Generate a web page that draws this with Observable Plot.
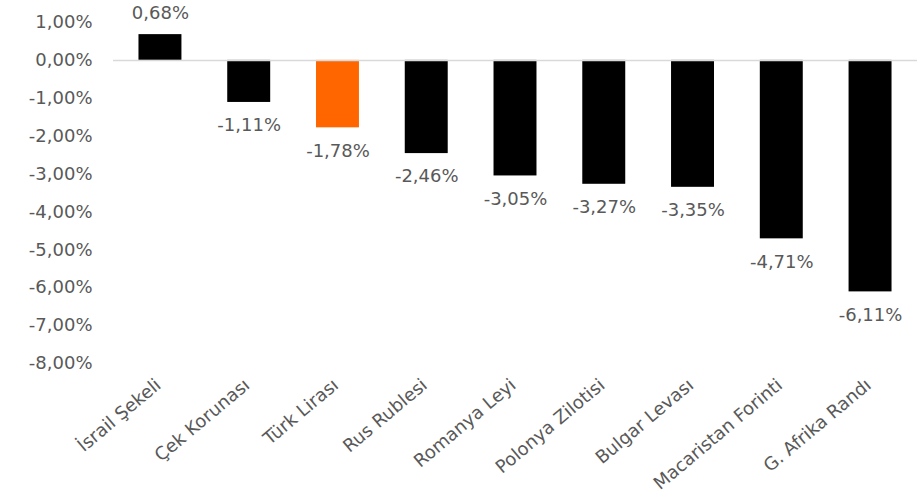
<!DOCTYPE html>
<html><head><meta charset="utf-8">
<script src="https://cdn.jsdelivr.net/npm/d3@7"></script>
<script src="https://cdn.jsdelivr.net/npm/@observablehq/plot@0.6"></script>
<style>body{margin:0;background:#fff}</style>
</head><body><div id="chart"></div>
<script>
const currencies = ["İsrail Şekeli","Çek Korunası","Türk Lirası","Rus Rublesi","Romanya Leyi","Polonya Zilotisi","Bulgar Levası","Macaristan Forinti","G. Afrika Randı"];
const changes = [0.68,-1.11,-1.78,-2.46,-3.05,-3.27,-3.35,-4.71,-6.11];
const yTicks = [1,0,-1,-2,-3,-4,-5,-6,-7,-8];
const highlight = "Türk Lirası";

const data = currencies.map((c,i)=>({currency:c, value:changes[i]}));
const pct = (v, n) => v.toFixed(n).replace(".", ",") + "%";
const grey = "#595959";

const chart = Plot.plot({
  width: 924, height: 503,
  marginTop: 22, marginBottom: 140, marginLeft: 113, marginRight: 7,
  style: {fontFamily: "DejaVu Sans", fontSize: "18px", color: grey, background: "#fff"},
  x: {domain: currencies, paddingInner: 0.516, paddingOuter: 0.287, round: false},
  y: {domain: [-8, 1]},
  marks: [
    Plot.barY(data, {x: "currency", y: "value", fill: d => d.currency === highlight ? "#FF6600" : "#000000"}),
    Plot.ruleY([0], {stroke: "#d9d9d9", strokeWidth: 1.5}),
    Plot.text(data.filter(d => d.value >= 0), {x: "currency", y: "value", dy: -21, text: d => pct(d.value, 2), fill: grey, fontSize: 18}),
    Plot.text(data.filter(d => d.value < 0), {x: "currency", y: "value", dy: 23, text: d => pct(d.value, 2), fill: grey, fontSize: 18}),
    Plot.axisY({ticks: yTicks, tickFormat: v => pct(v, 2), tickSize: 0, tickPadding: 21, label: null, fill: grey, fontSize: 18}),
    Plot.axisX({tickSize: 0, tickRotate: -40, tickPadding: 19, dx: -2, label: null, fill: grey, fontSize: 18})
  ]
});
document.getElementById("chart").appendChild(chart);
</script>
</body></html>
